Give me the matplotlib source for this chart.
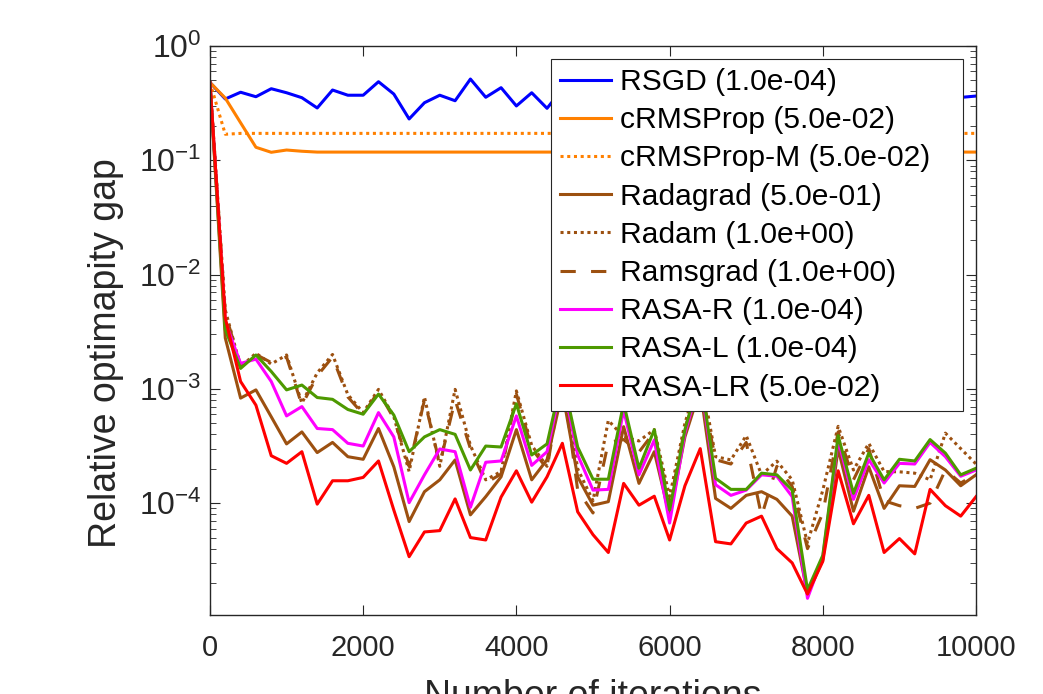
import numpy as np
import matplotlib
matplotlib.use('Agg')
import matplotlib.pyplot as plt

plt.rcParams['font.family'] = ['Liberation Sans', 'DejaVu Sans']
plt.rcParams['mathtext.fontset'] = 'custom'
plt.rcParams['mathtext.rm'] = 'Liberation Sans'
plt.rcParams['mathtext.it'] = 'Liberation Sans:italic'

iters = np.arange(0, 10001, 200)

rsgd = [0.48, 0.344, 0.394, 0.360, 0.423, 0.390, 0.353, 0.287, 0.412, 0.371,
        0.371, 0.487, 0.380, 0.230, 0.319, 0.371, 0.332, 0.514, 0.356, 0.432,
        0.299, 0.390, 0.285, 0.42, 0.35, 0.47, 0.33, 0.38, 0.40, 0.29,
        0.44, 0.36, 0.39, 0.31, 0.46, 0.37, 0.34, 0.41, 0.30, 0.43,
        0.36, 0.38, 0.33, 0.45, 0.35, 0.39, 0.32, 0.40, 0.36, 0.355, 0.365]

crmsprop = [0.48, 0.35, 0.213, 0.130, 0.1175, 0.123, 0.120] + [0.118] * 44

crmsprop_m = [0.48, 0.169] + [0.172] * 49

radagrad = [0.48, 2.79e-3, 8.3e-4, 9.8e-4, 5.7e-4, 3.3e-4, 4.2e-4, 2.77e-4, 3.4e-4, 2.55e-4,
            2.42e-4, 4.5e-4, 2.08e-4, 6.9e-5, 1.26e-4, 1.6e-4, 2.39e-4, 7.9e-5, 1.14e-4, 1.7e-4,
            4.4e-4, 1.6e-4, 2.4e-4, 9.5e-4, 1.7e-4, 9.6e-5, 1.03e-4, 4.67e-4, 1.49e-4, 2.82e-4,
            7.7e-5, 3.8e-4, 1.0e-3, 1.1e-4, 9.0e-5, 1.17e-4, 1.26e-4, 1.08e-4, 7.7e-5, 1.6e-5,
            3.2e-5, 3.0e-4, 8.5e-5, 2.08e-4, 9.0e-5, 1.42e-4, 1.4e-4, 2.4e-4, 1.95e-4, 1.42e-4,
            1.77e-4]

radam = [0.48, 4.9e-3, 1.56e-3, 2.05e-3, 1.65e-3, 1.98e-3, 7.5e-4, 1.38e-3, 2.0e-3, 8.9e-4,
         6.2e-4, 9.9e-4, 5.7e-4, 1.89e-4, 8.5e-4, 2.1e-4, 9.9e-4, 3.2e-4, 1.6e-4, 1.89e-4,
         9.6e-4, 3.2e-4, 2.1e-4, 1.4e-3, 2.0e-4, 1.05e-4, 5.3e-4, 3.8e-4, 3.5e-4, 4.4e-4,
         1.14e-4, 5.0e-4, 1.4e-3, 2.55e-4, 2.39e-4, 3.9e-4, 1.77e-4, 2.33e-4, 1.6e-4, 4.45e-5,
         1.3e-4, 4.7e-4, 1.95e-4, 3.34e-4, 1.89e-4, 1.88e-4, 1.83e-4, 1.6e-4, 4.1e-4, 3.0e-4,
         2.2e-4]

ramsgrad = [0.48, 4.6e-3, 1.6e-3, 2.0e-3, 1.7e-3, 1.9e-3, 7.2e-4, 1.3e-3, 1.9e-3, 8.5e-4,
            6.0e-4, 9.5e-4, 5.5e-4, 2.1e-4, 8.0e-4, 2.2e-4, 8.0e-4, 3.0e-4, 1.5e-4, 1.8e-4,
            9.0e-4, 3.0e-4, 2.0e-4, 1.3e-3, 1.3e-4, 8.2e-5, 3.4e-4, 3.6e-4, 2.8e-4, 4.2e-4,
            9.5e-5, 4.6e-4, 1.1e-3, 2.4e-4, 2.2e-4, 3.4e-4, 7.7e-5, 2.1e-4, 1.4e-4, 4.0e-5,
            8.2e-5, 4.2e-4, 1.6e-4, 3.0e-4, 1.05e-4, 9.5e-5, 9.0e-5, 1.0e-4, 1.95e-4, 1.5e-4,
            1.8e-4]

rasa_r = [0.48, 3.85e-3, 1.67e-3, 1.82e-3, 1.16e-3, 5.8e-4, 7.0e-4, 4.5e-4, 4.4e-4, 3.34e-4,
          3.16e-4, 6.2e-4, 3.8e-4, 1.01e-4, 1.77e-4, 2.98e-4, 2.82e-4, 9.2e-5, 2.28e-4, 2.34e-4,
          5.8e-4, 2.14e-4, 2.82e-4, 1.2e-3, 2.64e-4, 1.3e-4, 1.32e-4, 6.5e-4, 1.77e-4, 3.57e-4,
          6.7e-5, 4.1e-4, 1.2e-3, 1.45e-4, 1.17e-4, 1.3e-4, 1.77e-4, 1.72e-4, 1.14e-4, 1.47e-5,
          3.4e-5, 3.57e-4, 1.08e-4, 2.4e-4, 1.5e-4, 2.23e-4, 2.2e-4, 3.4e-4, 2.55e-4, 1.72e-4,
          1.95e-4]

rasa_l = [0.48, 3.3e-3, 1.51e-3, 1.98e-3, 1.42e-3, 9.8e-4, 1.08e-3, 8.4e-4, 8.1e-4, 6.6e-4,
          6.0e-4, 9.0e-4, 5.9e-4, 2.82e-4, 3.8e-4, 4.4e-4, 4.0e-4, 1.95e-4, 3.16e-4, 3.1e-4,
          7.4e-4, 2.64e-4, 3.3e-4, 1.3e-3, 3.1e-4, 1.62e-4, 1.62e-4, 7.5e-4, 2.02e-4, 4.4e-4,
          8.7e-5, 4.4e-4, 1.3e-3, 1.65e-4, 1.32e-4, 1.32e-4, 1.83e-4, 1.77e-4, 1.3e-4, 1.74e-5,
          3.5e-5, 3.9e-4, 1.22e-4, 2.74e-4, 1.6e-4, 2.42e-4, 2.34e-4, 3.6e-4, 2.74e-4, 1.77e-4,
          2.02e-4]

rasa_lr = [0.48, 4.17e-3, 1.16e-3, 7.2e-4, 2.6e-4, 2.23e-4, 2.82e-4, 9.8e-5, 1.57e-4, 1.57e-4,
           1.68e-4, 2.34e-4, 8.7e-5, 3.4e-5, 5.6e-5, 5.75e-5, 1.09e-4, 5.0e-5, 4.76e-5, 1.13e-4,
           1.92e-4, 1.02e-4, 1.7e-4, 3.34e-4, 8.4e-5, 5.3e-5, 3.7e-5, 1.49e-4, 9.6e-5, 1.15e-4,
           4.76e-5, 1.42e-4, 3.0e-4, 4.6e-5, 4.4e-5, 6.7e-5, 7.7e-5, 4.0e-5, 3.0e-5, 1.6e-5,
           3.1e-5, 1.92e-4, 6.6e-5, 1.17e-4, 3.7e-5, 4.9e-5, 3.6e-5, 1.32e-4, 9.5e-5, 7.7e-5,
           1.14e-4]

orange = '#FF8000'
brown = '#9C5010'

fig = plt.figure(figsize=(10.43, 6.94), dpi=100)
ax = fig.add_axes([0.2013, 0.1138, 0.7345, 0.8199])

lw = 2.2
ax.plot(iters, rsgd, color='#0000FF', lw=lw, label='RSGD (1.0e-04)')
ax.plot(iters, crmsprop, color=orange, lw=lw, label='cRMSProp (5.0e-02)')
ax.plot(iters, crmsprop_m, color=orange, lw=lw, linestyle=(0, (1, 1.2)), label='cRMSProp-M (5.0e-02)')
ax.plot(iters, radagrad, color=brown, lw=lw, label='Radagrad (5.0e-01)')
ax.plot(iters, radam, color=brown, lw=lw, linestyle=(0, (1, 1.2)), label='Radam (1.0e+00)')
ax.plot(iters, ramsgrad, color=brown, lw=lw, linestyle=(0, (5, 5)), label='Ramsgrad (1.0e+00)')
ax.plot(iters, rasa_r, color='#FF00FF', lw=lw, label='RASA-R (1.0e-04)')
ax.plot(iters, rasa_l, color='#4D9900', lw=lw, label='RASA-L (1.0e-04)')
ax.plot(iters, rasa_lr, color='#FF0000', lw=lw, label='RASA-LR (5.0e-02)')

ax.set_yscale('log')
ax.set_xlim(0, 10000)
ax.set_ylim(1.05e-5, 1)
ax.set_xticks([0, 2000, 4000, 6000, 8000, 10000])
ax.set_yticks([1e-4, 1e-3, 1e-2, 1e-1, 1e0])

for sp in ax.spines.values():
    sp.set_color('#262626')
    sp.set_linewidth(1.0)
ax.tick_params(which='both', direction='in', top=True, right=True, colors='#262626')
ax.tick_params(which='major', length=7, width=0.8)
ax.tick_params(which='minor', length=4, width=0.6)
ax.tick_params(axis='x', which='major', labelsize=21, pad=14)
ax.tick_params(axis='y', which='major', labelsize=23, pad=6)

ax.set_ylabel('Relative optimapity gap', fontsize=27, color='#262626')
ax.yaxis.set_label_coords(-0.112, 0.46)
ax.set_xlabel('Number of iterations', fontsize=27, color='#262626')
ax.xaxis.set_label_coords(0.5, -0.112)

# box from x=551..963 px, top at y=59 px
leg = ax.legend(loc='upper left', bbox_to_anchor=(0.445, 0.0, 0.538, 0.977), mode='expand',
                borderaxespad=0, fontsize=21.6, labelspacing=0.34, handlelength=1.7,
                handletextpad=0.3, borderpad=0.3, fancybox=False, framealpha=1,
                edgecolor='#262626')
leg.get_frame().set_linewidth(0.8)

fig.savefig('out.png', dpi=100)
